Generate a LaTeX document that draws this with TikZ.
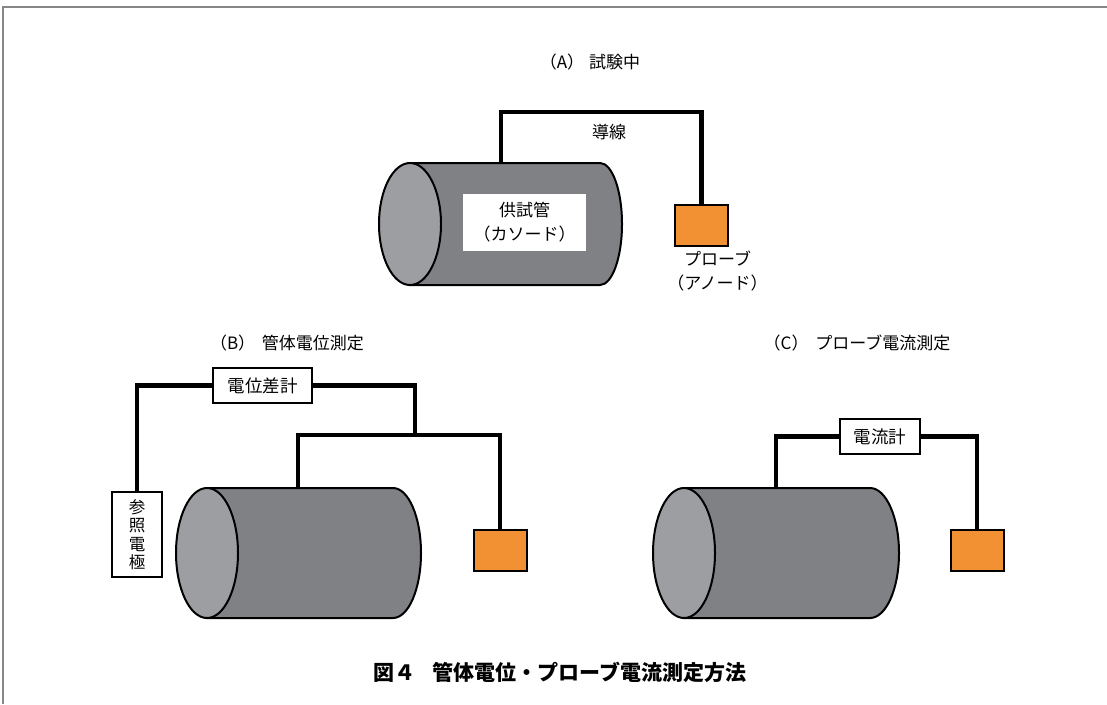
\documentclass[tikz,border=0pt]{standalone}
\usepackage{fontspec}
\setmainfont{Noto Sans CJK JP}
\usetikzlibrary{positioning}

\definecolor{tubegray}{RGB}{128,129,133}
\definecolor{tubeend}{RGB}{157,158,162}
\definecolor{probeorange}{RGB}{242,145,52}
\definecolor{framegray}{RGB}{135,135,135}

\tikzset{
  wire/.style={line width=4.5pt},
  tubeline/.style={line width=2pt},
  probe/.style={draw, line width=2pt, fill=probeorange, minimum width=53pt, minimum height=41pt, inner sep=0pt},
  meter/.style={draw, line width=1.6pt, fill=white, inner sep=0pt, font=\fontsize{17.5}{18}\selectfont},
  title/.style={font=\fontsize{17}{20}\selectfont},
  lbl/.style={inner sep=0pt, align=center, font=\fontsize{17}{24}\selectfont},
}

% #1 name of top point, (#2,#3) centre of end face, #4 length, #5 half height, #6 x radius of far end
\newcommand{\drawtube}[6]{%
  \draw[tubeline, fill=tubegray] (#2,#3-#5) -- ++(#4,0) arc (-90:90:#6 and #5) -- (#2,#3+#5) -- cycle;
  \draw[tubeline, fill=tubeend] (#2,#3) ellipse (31 and #5);
}

\begin{document}
\begin{tikzpicture}[x=1pt, y=-1pt]
        \useasboundingbox (0,0) rectangle (1107,704);
        \draw[framegray, line width=1.5pt] (3,704) -- (3,7) -- (1107,7);

        % (A)
        \node[title] (titleA) at (590,62) {（A）\hspace{0.3em}試験中};
        \drawtube{tubeA}{410}{224}{190}{61}{22}
        \coordinate (tubeA) at (501,163);
        \node[lbl, fill=white, minimum width=123pt, minimum height=57pt] (sampleA) at (524.5,222.5) {供試管\\（カソード）};
        \node[probe] (probeA) at (701.5,225.5) {};
        \draw[wire] (tubeA) -- ++(0,-51) -| (probeA.north);
        \node[lbl] (wireA) at (609,132) {導線};
        \node[lbl, below=4pt of probeA.south, xshift=16pt, anchor=north] (anodeA) {プローブ\\（アノード）};

        % (B)
        \node[title] (titleB) at (287,343) {（B）\hspace{0.4em}管体電位測定};
        \drawtube{tubeB}{207}{553}{186}{65}{28}
        \coordinate (tubeB) at (298,488);
        \node[probe] (probeB) at (500,550) {};
        \node[meter, minimum width=99pt, minimum height=35pt] (potB) at (262.5,385.5) {電位差計};
        \node[meter, minimum width=50pt, minimum height=85pt, align=center, font=\fontsize{16.5}{18.5}\selectfont] (refB) at (137,534.5) {参\\照\\電\\極};
        \coordinate (jB) at (415,435);
        \draw[wire] (potB.west) -| (refB.north);
        \draw[wire] (potB.east) -| (jB);
        \draw[wire] (tubeB) |- (jB) -| (probeB.north);

        % (C)
        \node[title] (titleC) at (857,343) {（C）\hspace{0.4em}プローブ電流測定};
        \drawtube{tubeC}{684}{553}{186}{65}{29}
        \coordinate (tubeC) at (776,488);
        \node[probe] (probeC) at (977,550) {};
        \node[meter, minimum width=80pt, minimum height=35pt] (ammC) at (880,436.5) {電流計};
        \draw[wire] (ammC.west) -| (tubeC);
        \draw[wire] (ammC.east) -| (probeC.north);

        \node[font=\fontsize{21}{24}\selectfont\bfseries] (caption) at (560,672) {図４\hspace{0.8em}管体電位・プローブ電流測定方法};
\end{tikzpicture}
\end{document}
